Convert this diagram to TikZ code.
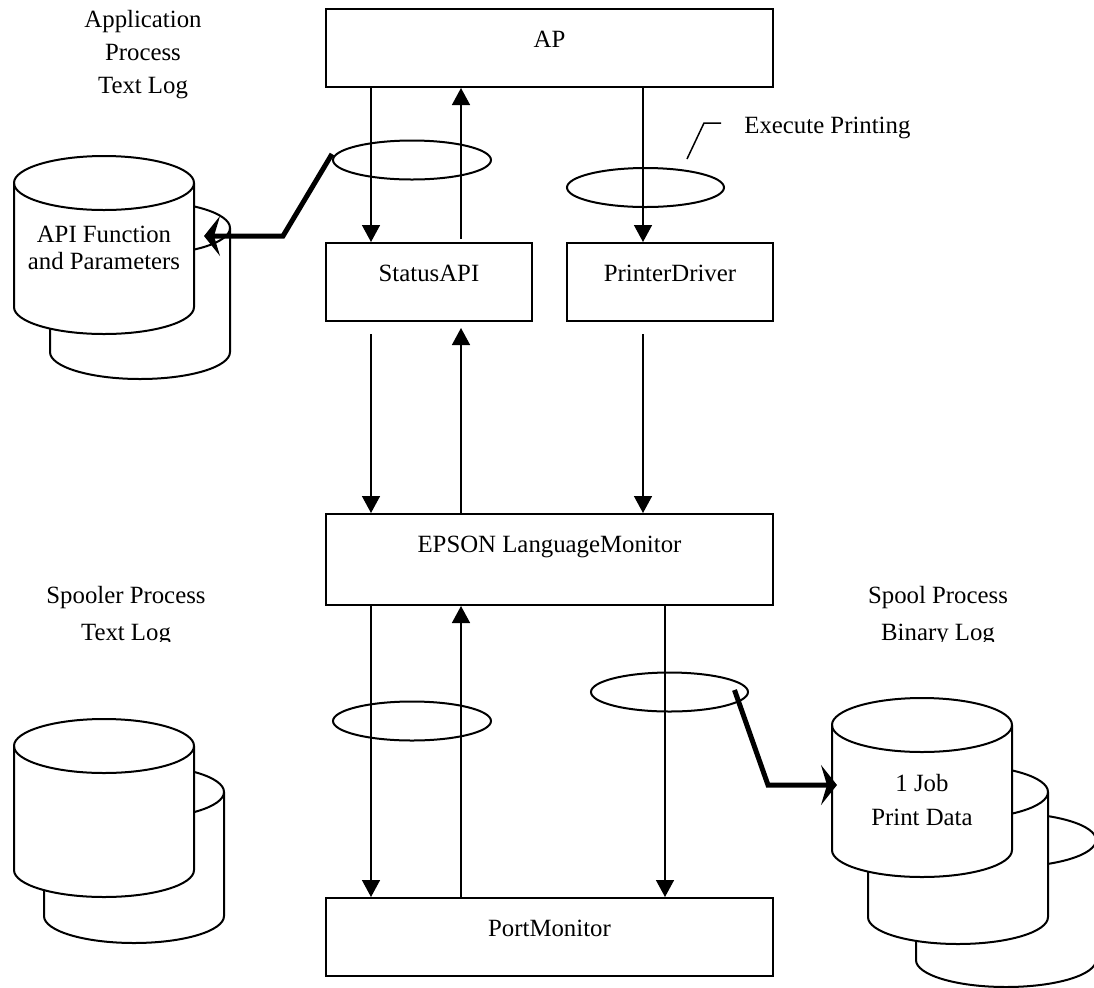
\documentclass[tikz,border=0pt]{standalone}
\usepackage{fontspec}
\setmainfont{Liberation Serif}
\usetikzlibrary{calc,arrows.meta,shapes.geometric}

\tikzset{
  box/.style={draw, line width=1pt, inner sep=0pt, text height=19pt, text depth=20pt},
  flow/.style={line width=0.75pt, -{Triangle[width=9pt,length=8.5pt]}},
  feed/.style={line width=2.5pt, -{Stealth[width=20pt,length=8pt,inset=3pt]}},
  ring/.style={draw, ellipse, line width=1pt, inner sep=0pt, minimum width=79pt, minimum height=19.5pt},
  lbl/.style={align=center, inner sep=0pt}
}

% one disk drum: left x, top of side, bottom of side
\newcommand{\dbdrum}[3]{%
  \filldraw[line width=1pt, fill=white] (#1,#2) -- (#1,#3)
    arc[start angle=180, end angle=0, x radius=90, y radius=27] -- (#1+180,#2)
    arc[start angle=0, end angle=-180, x radius=90, y radius=27] -- cycle;
  \draw[line width=1pt] (#1,#2) arc[start angle=180, end angle=0, x radius=90, y radius=27];
}

\begin{document}
\begin{tikzpicture}[x=0.5pt, y=-0.5pt, font=\fontsize{12.4}{15}\selectfont]
\useasboundingbox (0,0) rectangle (1094,987);

% process boxes
\node[box, minimum width=223.5pt] (ap) at (549.5,48) {AP};
\node[box, minimum width=103pt] (statusapi) at (429,282) {StatusAPI};
\node[box, minimum width=103pt] (printerdriver) at (670,282) {PrinterDriver};
\node[box, minimum width=223.5pt, text depth=26.5pt] (langmon) at (549.5,559.5) {EPSON LanguageMonitor};
\node[box, minimum width=223.5pt] (portmon) at (549.5,937) {PortMonitor};

% columns of the arrows
\coordinate (colA) at (371,0);
\coordinate (colB) at (461,0);
\coordinate (colC) at (643,0);
\coordinate (colD) at (665,0);

\draw[flow] (ap.south -| colA) -- (statusapi.north -| colA);
\draw[flow] ($(statusapi.north -| colB)+(0,-3)$) -- (ap.south -| colB);
\draw[flow] (ap.south -| colC) -- (printerdriver.north -| colC);
\draw[flow] ($(statusapi.south -| colA)+(0,12)$) -- (langmon.north -| colA);
\draw[flow] (langmon.north -| colB) -- ($(statusapi.south -| colB)+(0,6)$);
\draw[flow] ($(printerdriver.south -| colC)+(0,12)$) -- (langmon.north -| colC);
\draw[flow] (langmon.south -| colA) -- (portmon.north -| colA);
\draw[flow] (portmon.north -| colB) -- (langmon.south -| colB);
\draw[flow] (langmon.south -| colD) -- (portmon.north -| colD);

% rings round the calls
\node[ring] (ringapi) at (412,160) {};
\node[ring, minimum width=78.5pt] (ringexec) at (645.5,187.5) {};
\node[ring] (ringspooler) at (412,721) {};
\node[ring, minimum width=78.5pt] (ringspool) at (669.5,692) {};

% Execute Printing callout
\node[lbl, anchor=west] (exec) at (744,128) {Execute Printing};
\coordinate (execfoot) at (687,159);
\draw[line width=0.75pt] (execfoot) -- (704,123) -- ($(exec.west)+(-23,-5)$);

% log titles
\node[lbl, font=\fontsize{12.4}{16.5}\selectfont] (lblapp) at (143,55) {Application\\Process\\Text Log};
\begin{scope}
\clip (0,560) rectangle (1094,641);
\node[lbl, font=\fontsize{12.4}{18.5}\selectfont] (lblspooler) at (126,616) {Spooler Process\\Text Log};
\node[lbl, font=\fontsize{12.4}{18.5}\selectfont] (lblspool) at (938,616) {Spool Process\\Binary Log};
\end{scope}

% log drums
\dbdrum{50}{228}{352}
\dbdrum{14}{183}{307}
\dbdrum{44}{792}{916}
\dbdrum{14}{746}{870}
\dbdrum{916}{840}{960}
\dbdrum{868}{792}{917}
\dbdrum{832}{725}{850}

\node[lbl, font=\fontsize{12.4}{13.5}\selectfont] (apitext) at (104,248) {API Function\\and Parameters};
\node[lbl, font=\fontsize{12.4}{17}\selectfont] (jobtext) at (922,800) {1 Job\\Print Data};

% log feeds
\coordinate (apilog) at (204,236);
\coordinate (joblog) at (837,785);
\draw[feed] ($(ringapi.center)+(-80,-6)$) -- (283,236) -- (apilog);
\draw[feed] ($(ringspool.center)+(65,-2)$) -- (768,785) -- (joblog);
\end{tikzpicture}
\end{document}
